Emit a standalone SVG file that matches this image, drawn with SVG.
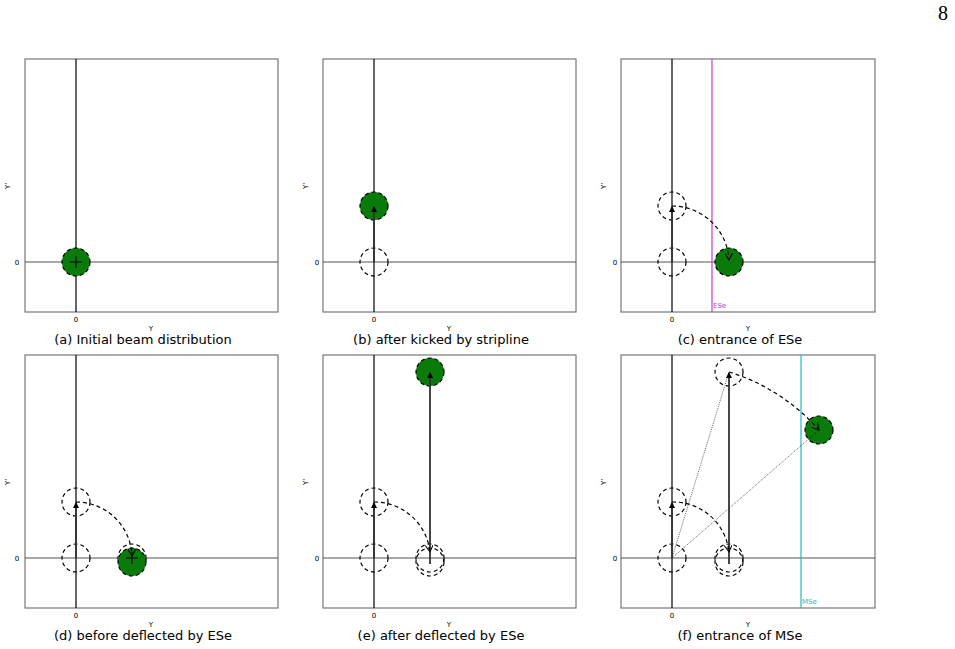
<svg xmlns="http://www.w3.org/2000/svg" width="955" height="649" viewBox="0 0 955 649">
<style>
.fr{fill:none;stroke:#777;stroke-width:1.2}
.ax{stroke:#555;stroke-width:1.2}
.ay{stroke:#000;stroke-width:1.2}
.dc{fill:none;stroke:#000;stroke-width:1.2;stroke-dasharray:4,3}
.gc{fill:#0a7a0a;stroke:#000;stroke-width:1.2;stroke-dasharray:4,3}
.ar{stroke:#333;stroke-width:1.8;marker-end:url(#ah)}
.arc{fill:none;stroke:#000;stroke-width:1.2;stroke-dasharray:4,3;marker-end:url(#ah2)}
.dot{stroke:#000;stroke-width:0.6;stroke-dasharray:1,1}
.t{font-family:"DejaVu Sans",sans-serif;font-size:7px;fill:#000}
.cap{font-family:"DejaVu Sans",sans-serif;font-size:13px;fill:#000;text-anchor:middle}
</style>
<defs>
<marker id="ah" markerWidth="6" markerHeight="6" refX="5" refY="3" orient="auto" markerUnits="userSpaceOnUse"><path d="M0,0 L6,3 L0,6z" fill="#000"/></marker>
<marker id="ah2" markerWidth="8" markerHeight="8" refX="7" refY="4" orient="auto" markerUnits="userSpaceOnUse"><path d="M0,0 L7,4 L0,8" fill="none" stroke="#000"/></marker>
</defs>
<rect width="955" height="649" fill="#fff"/>
<text x="943" y="20" font-family="Liberation Serif,serif" font-size="20" text-anchor="middle">8</text>

<g id="panel-a">
<rect class="fr" x="25" y="59" width="253" height="253"/>
<line class="ax" x1="25" y1="262" x2="278" y2="262"/><line class="ay" x1="76" y1="59" x2="76" y2="312"/>
<circle class="gc" cx="76" cy="262" r="14"/>
<line x1="70" y1="262" x2="82" y2="262" stroke="#000"/><line x1="76" y1="256" x2="76" y2="268" stroke="#000"/>
<text class="t" x="76" y="322" text-anchor="middle">0</text><text class="t" x="17" y="265" text-anchor="middle">0</text>
<text class="t" x="151" y="331" text-anchor="middle">Y</text><text class="t" transform="translate(10,186) rotate(-90)" text-anchor="middle">Y'</text>
<text class="cap" x="143" y="344">(a) Initial beam distribution</text>
</g>

<g id="panel-b">
<rect class="fr" x="323" y="59" width="253" height="253"/>
<line class="ax" x1="323" y1="262" x2="576" y2="262"/><line class="ay" x1="374" y1="59" x2="374" y2="312"/>
<circle class="dc" cx="374" cy="262" r="14"/><circle class="gc" cx="374" cy="206" r="14"/>
<line class="ar" x1="374" y1="262" x2="374" y2="207"/>
<text class="t" x="374" y="322" text-anchor="middle">0</text><text class="t" x="317" y="265" text-anchor="middle">0</text>
<text class="t" x="449" y="331" text-anchor="middle">Y</text><text class="t" transform="translate(308,186) rotate(-90)" text-anchor="middle">Y'</text>
<text class="cap" x="441" y="344">(b) after kicked by stripline</text>
</g>

<g id="panel-c">
<rect class="fr" x="621" y="59" width="254" height="253"/>
<line class="ax" x1="621" y1="262" x2="875" y2="262"/><line class="ay" x1="672" y1="59" x2="672" y2="312"/>
<line x1="712" y1="59" x2="712" y2="312" stroke="#c040d0" stroke-width="1.2"/>
<text x="713" y="308" font-family="DejaVu Sans,sans-serif" font-size="7" fill="#c040d0">ESe</text>
<circle class="dc" cx="672" cy="206" r="14"/><circle class="dc" cx="672" cy="262" r="14"/>
<circle class="gc" cx="729" cy="262" r="14"/>
<line class="ar" x1="672" y1="262" x2="672" y2="207"/>
<path class="arc" d="M672,206 A57,57 0 0 1 729,260"/>
<text class="t" x="672" y="322" text-anchor="middle">0</text><text class="t" x="615" y="265" text-anchor="middle">0</text>
<text class="t" x="748" y="331" text-anchor="middle">Y</text><text class="t" transform="translate(606,186) rotate(-90)" text-anchor="middle">Y'</text>
<text class="cap" x="740" y="344">(c) entrance of ESe</text>
</g>

<g id="panel-d">
<rect class="fr" x="25" y="355" width="253" height="253"/>
<line class="ax" x1="25" y1="558" x2="278" y2="558"/><line class="ay" x1="76" y1="355" x2="76" y2="608"/>
<circle class="dc" cx="76" cy="558" r="14"/><circle class="dc" cx="76" cy="502" r="14"/>
<circle class="dc" cx="132" cy="558" r="14"/><circle class="gc" cx="132" cy="562" r="14"/>
<line x1="126" y1="558" x2="138" y2="558" stroke="#000"/><line x1="132" y1="552" x2="132" y2="564" stroke="#000"/>
<line class="ar" x1="76" y1="558" x2="76" y2="503"/>
<path class="arc" d="M76,502 A56,56 0 0 1 132,556"/>
<text class="t" x="76" y="618" text-anchor="middle">0</text><text class="t" x="17" y="561" text-anchor="middle">0</text>
<text class="t" x="151" y="627" text-anchor="middle">Y</text><text class="t" transform="translate(10,482) rotate(-90)" text-anchor="middle">Y'</text>
<text class="cap" x="143" y="640">(d) before deflected by ESe</text>
</g>

<g id="panel-e">
<rect class="fr" x="323" y="355" width="253" height="253"/>
<line class="ax" x1="323" y1="558" x2="576" y2="558"/><line class="ay" x1="374" y1="355" x2="374" y2="608"/>
<circle class="dc" cx="374" cy="558" r="14"/><circle class="dc" cx="374" cy="502" r="14"/>
<circle class="dc" cx="430" cy="558" r="14"/><circle class="dc" cx="430" cy="562" r="14"/>
<circle class="gc" cx="430" cy="372" r="14"/>
<line class="ar" x1="374" y1="558" x2="374" y2="503"/>
<line class="ar" x1="430" y1="564" x2="430" y2="373"/>
<path class="arc" d="M374,502 A56,56 0 0 1 430,552"/>
<text class="t" x="374" y="618" text-anchor="middle">0</text><text class="t" x="317" y="561" text-anchor="middle">0</text>
<text class="t" x="449" y="627" text-anchor="middle">Y</text><text class="t" transform="translate(308,482) rotate(-90)" text-anchor="middle">Y'</text>
<text class="cap" x="441" y="640">(e) after deflected by ESe</text>
</g>

<g id="panel-f">
<rect class="fr" x="621" y="355" width="254" height="253"/>
<line class="ax" x1="621" y1="558" x2="875" y2="558"/><line class="ay" x1="672" y1="355" x2="672" y2="608"/>
<line x1="801" y1="355" x2="801" y2="608" stroke="#20b8c8" stroke-width="1.2"/>
<text x="802" y="604" font-family="DejaVu Sans,sans-serif" font-size="7" fill="#20b8c8">MSe</text>
<circle class="dc" cx="672" cy="558" r="14"/><circle class="dc" cx="672" cy="502" r="14"/>
<circle class="dc" cx="729" cy="558" r="14"/><circle class="dc" cx="729" cy="562" r="14"/>
<circle class="dc" cx="729" cy="372" r="14"/>
<circle class="gc" cx="819" cy="430" r="14"/>
<line class="dot" x1="672" y1="558" x2="729" y2="372"/>
<line class="dot" x1="672" y1="558" x2="819" y2="430"/>
<line class="ar" x1="672" y1="558" x2="672" y2="503"/>
<line class="ar" x1="729" y1="564" x2="729" y2="373"/>
<path class="arc" d="M672,502 A56,56 0 0 1 729,552"/>
<path class="arc" d="M729,372 A195,195 0 0 1 819,430"/>
<text class="t" x="672" y="618" text-anchor="middle">0</text><text class="t" x="615" y="561" text-anchor="middle">0</text>
<text class="t" x="748" y="627" text-anchor="middle">Y</text><text class="t" transform="translate(606,482) rotate(-90)" text-anchor="middle">Y'</text>
<text class="cap" x="740" y="640">(f) entrance of MSe</text>
</g>
</svg>
